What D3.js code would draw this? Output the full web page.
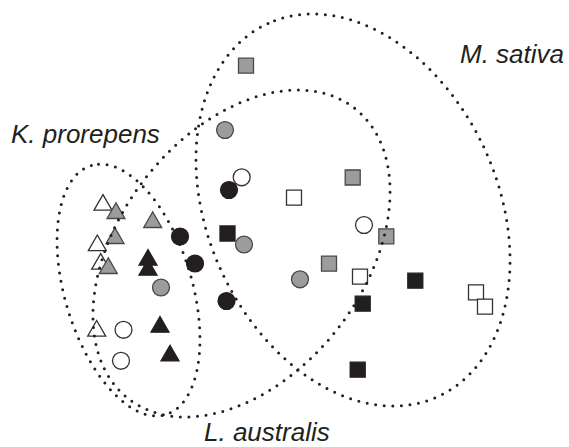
<!DOCTYPE html>
<html>
<head>
<meta charset="utf-8">
<script src="https://cdn.jsdelivr.net/npm/d3@7"></script>
<style>
  html, body { margin: 0; padding: 0; background: #fff; }
  svg { display: block; }
  .label { font-family: "Liberation Sans", Arial, Helvetica, sans-serif; font-style: italic; font-size: 26px; fill: #231f20; }
</style>
</head>
<body>
<svg id="chart" width="569" height="447"></svg>
<script>
// Ordination scores (axis 1, axis 2) by species; third entry is the treatment group
const groups = ["open", "grey", "black"];

const kProrepens = [
  [1.06, 4.30, "open"], [0.946, 3.492, "open"], [1.014, 3.12, "open"], [0.934, 1.782, "open"],
  [1.32, 4.134, "grey"], [2.054, 3.954, "grey"], [1.30, 3.634, "grey"], [1.166, 3.034, "grey"],
  [1.96, 3.20, "black"], [1.96, 3.00, "black"], [2.20, 1.86, "black"], [2.40, 1.286, "black"]
];

const lAustralis = [
  [3.834, 4.854, "open"], [6.28, 3.90, "open"], [1.47, 1.804, "open"], [1.42, 1.184, "open"],
  [3.50, 5.80, "grey"], [3.88, 3.51, "grey"], [2.22, 2.65, "grey"], [5.00, 2.814, "grey"],
  [3.58, 4.60, "black"], [2.60, 3.67, "black"], [2.90, 3.13, "black"], [3.53, 2.38, "black"]
];

const mSativa = [
  [4.88, 4.446, "open"], [6.20, 2.866, "open"], [8.52, 2.554, "open"], [8.70, 2.266, "open"],
  [3.92, 7.086, "grey"], [6.054, 4.85, "grey"], [6.726, 3.674, "grey"], [5.58, 3.126, "grey"],
  [3.55, 3.73, "black"], [7.306, 2.786, "black"], [6.254, 2.326, "black"], [6.154, 1.006, "black"]
];

// Group envelopes: centre (x, y), semi-axes, major-axis angle in degrees
const envelopeNames = ["K. prorepens", "L. australis", "M. sativa"];
const envelopeCentres = [[1.57, 2.60], [3.83, 3.33], [6.06, 4.20]];
const envelopeAxes = [[2.60, 1.274], [3.682, 2.442], [4.10, 2.902]];
const envelopeAngles = [106.6, 52.1, 114.5];

// Species label anchors in axis units
const labelPositions = [[-0.78, 5.54], [3.08, -0.42], [8.2, 7.14]];

const svg = d3.select("#chart");
const W = 569, H = 447;
svg.append("rect").attr("width", W).attr("height", H).attr("fill", "#fff");

const x = d3.scaleLinear().domain([0, 10]).range([50, 550]);
const y = d3.scaleLinear().domain([0, 8]).range([420, 20]);

const fillOf = d3.scaleOrdinal().domain(groups).range(["#ffffff", "#9c9c9e", "#231f20"]);
const strokeOf = d3.scaleOrdinal().domain(groups).range(["#333132", "#4a4849", "#231f20"]);

const species = [
  { pts: kProrepens, symbol: d3.symbolTriangle, size: 140 },
  { pts: lAustralis, symbol: d3.symbolCircle, size: 225 },
  { pts: mSativa, symbol: d3.symbolSquare, size: 225 }
];

const marks = svg.append("g");
species.forEach(sp => {
  const sym = d3.symbol().type(sp.symbol).size(sp.size);
  marks.selectAll(null)
    .data(sp.pts)
    .join("path")
    .attr("d", sym)
    .attr("transform", d => `translate(${x(d[0])},${y(d[1])})`)
    .attr("fill", d => fillOf(d[2]))
    .attr("stroke", d => strokeOf(d[2]))
    .attr("stroke-width", 1.3);
});

// Dotted envelopes drawn over the markers
const line = d3.line().x(p => x(p[0])).y(p => y(p[1])).curve(d3.curveLinearClosed);
const N = 360;
envelopeCentres.forEach((c, i) => {
  const [a, b] = envelopeAxes[i];
  const phi = envelopeAngles[i] * Math.PI / 180;
  const pts = d3.range(N).map(k => {
    const t = (k / N) * 2 * Math.PI;
    const dx = a * Math.cos(t) * Math.cos(phi) - b * Math.sin(t) * Math.sin(phi);
    const dy = a * Math.cos(t) * Math.sin(phi) + b * Math.sin(t) * Math.cos(phi);
    return [c[0] + dx, c[1] + dy];
  });
  svg.append("path")
    .attr("d", line(pts))
    .attr("fill", "none")
    .attr("stroke", "#231f20")
    .attr("stroke-width", 3)
    .attr("stroke-linecap", "round")
    .attr("stroke-dasharray", "0 8.6");
});

svg.selectAll("text.label")
  .data(envelopeNames)
  .join("text")
  .attr("class", "label")
  .attr("x", (d, i) => x(labelPositions[i][0]))
  .attr("y", (d, i) => y(labelPositions[i][1]))
  .text(d => d);
</script>
</body>
</html>
